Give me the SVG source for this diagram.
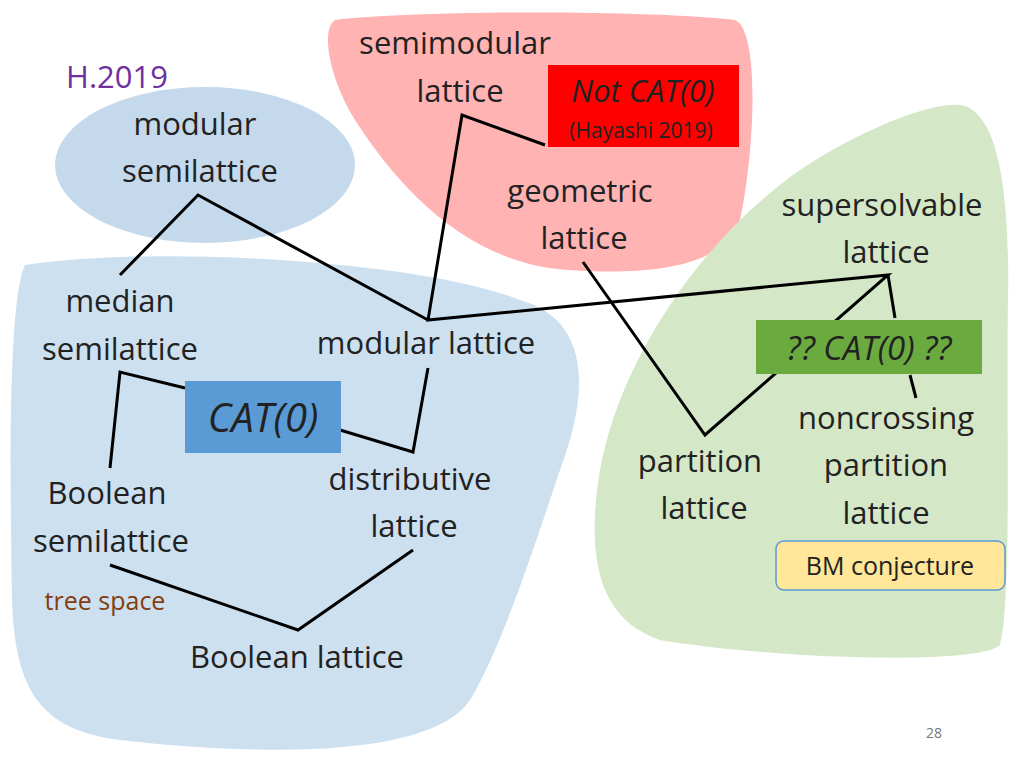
<svg xmlns="http://www.w3.org/2000/svg" width="1024" height="768" viewBox="0 0 1024 768">
<style>
.t{font-family:"Open Sans","Liberation Sans",sans-serif;font-size:31px;fill:#222;text-anchor:middle}
.c line,.c polyline{stroke:#000;stroke-width:3;fill:none}
</style>
<rect width="1024" height="768" fill="#fff"/>
<g id="regions">
<path d="M25,265 C150,245 420,260 520,300 C590,320 590,390 560,470 C530,560 500,650 470,700 C430,760 250,755 120,740 C40,730 15,690 12,600 C10,480 8,300 25,265 Z" fill="#cde0f0"/>
<ellipse cx="205" cy="165" rx="150" ry="78" fill="#c5d9ec"/>
<path d="M335,20 C420,10 650,10 735,20 C760,30 755,150 740,220 C725,270 640,275 570,270 C470,265 400,190 355,120 C330,80 320,30 335,20 Z" fill="#ffb3b3"/>
<path d="M960,105 C1000,110 1010,200 1008,300 C1006,420 1012,600 1000,645 C980,665 780,660 660,640 C600,620 585,560 600,470 C620,360 700,240 800,170 C860,130 930,102 960,105 Z" fill="#d4e8c8"/>
</g>
<g class="c" id="connectors">
<polyline points="120,275 198,195 428,320"/>
<polyline points="545,145 462,115 428,320 888,275 705,435 583,262"/>
<line x1="888" y1="275" x2="895" y2="318"/>
<line x1="910" y1="375" x2="916" y2="398"/>
<polyline points="185,388 120,372 110,468"/>
<polyline points="340,430 413,452 428,368"/>
<polyline points="110,565 298,630 413,550"/>
</g>
<g id="h2019"><text x="117" y="88" class="t" style="fill:#7030a0">H.2019</text></g>
<g id="modsemi"><text x="195" y="135" class="t">modular</text><text x="200" y="182" class="t">semilattice</text></g>
<g id="semimod"><text x="455" y="54" class="t">semimodular</text><text x="460" y="102" class="t">lattice</text></g>
<g id="notcat"><rect x="548" y="65" width="191" height="82" fill="#ff0000"/><text x="643" y="102" class="t" style="font-style:italic">Not CAT(0)</text><text x="641" y="138" class="t" style="font-size:21px">(Hayashi 2019)</text></g>
<g id="geom"><text x="580" y="202" class="t">geometric</text><text x="584" y="249" class="t">lattice</text></g>
<g id="supersolv"><text x="882" y="216" class="t">supersolvable</text><text x="886" y="263" class="t">lattice</text></g>
<g id="median"><text x="120" y="312" class="t">median</text><text x="120" y="360" class="t">semilattice</text></g>
<g id="modlat"><text x="426" y="354" class="t">modular lattice</text></g>
<g id="qcat"><rect x="756" y="320" width="226" height="54" fill="#6aaa3f"/><text x="869" y="360" class="t" style="font-style:italic;font-size:33px">?? CAT(0) ??</text></g>
<g id="cat0"><rect x="185" y="381" width="156" height="72" fill="#5b9bd5"/><text x="263" y="432" class="t" style="font-style:italic;font-size:40px">CAT(0)</text></g>
<g id="noncross"><text x="886" y="429" class="t">noncrossing</text><text x="886" y="476" class="t">partition</text><text x="886" y="524" class="t">lattice</text></g>
<g id="partition"><text x="700" y="472" class="t">partition</text><text x="704" y="519" class="t">lattice</text></g>
<g id="distrib"><text x="410" y="490" class="t">distributive</text><text x="414" y="537" class="t">lattice</text></g>
<g id="boolsemi"><text x="107" y="504" class="t">Boolean</text><text x="111" y="552" class="t">semilattice</text></g>
<g id="tree"><text x="105" y="610" class="t" style="fill:#843c0c;font-size:25px">tree space</text></g>
<g id="bm"><rect x="776" y="541" width="229" height="49" rx="8" fill="#ffe699" stroke="#5b9bd5" stroke-width="1.5"/><text x="890" y="575" class="t" style="font-size:25px">BM conjecture</text></g>
<g id="boollat"><text x="297" y="668" class="t">Boolean lattice</text></g>
<text x="934" y="738" class="t" style="font-size:14px;fill:#777">28</text>
</svg>
